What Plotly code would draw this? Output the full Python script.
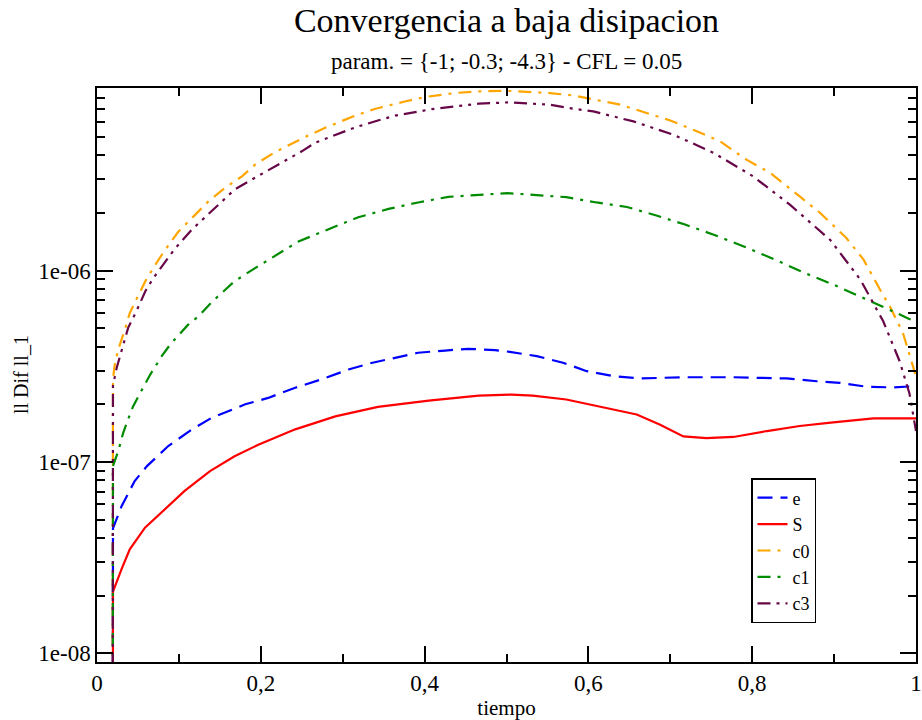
import math
import plotly.graph_objects as go

# ---------------- data ----------------
t_e = [0.019, 0.0195, 0.030, 0.046, 0.061, 0.087, 0.116, 0.140, 0.181, 0.209, 0.242, 0.274,
       0.307, 0.335, 0.364, 0.392, 0.425, 0.453, 0.486, 0.504, 0.537, 0.569, 0.598, 0.630,
       0.663, 0.716, 0.777, 0.842, 0.879, 0.907, 0.940, 0.972, 1.0]
v_e = [1e-10, 4.5e-8, 5.87e-8, 7.94e-8, 9.51e-8, 1.21e-7, 1.48e-7, 1.70e-7, 2.0e-7, 2.16e-7,
       2.44e-7, 2.70e-7, 3.04e-7, 3.29e-7, 3.50e-7, 3.72e-7, 3.82e-7, 3.90e-7, 3.84e-7, 3.76e-7,
       3.57e-7, 3.30e-7, 2.98e-7, 2.81e-7, 2.73e-7, 2.77e-7, 2.77e-7, 2.73e-7, 2.64e-7, 2.59e-7,
       2.47e-7, 2.45e-7, 2.49e-7]

t_S = [0.019, 0.0195, 0.030, 0.040, 0.0586, 0.083, 0.107, 0.138, 0.168, 0.197, 0.242, 0.291,
       0.343, 0.405, 0.466, 0.506, 0.532, 0.573, 0.614, 0.659, 0.687, 0.716, 0.744, 0.777,
       0.818, 0.858, 0.899, 0.948, 1.0]
v_S = [1e-10, 2.1e-8, 2.75e-8, 3.49e-8, 4.53e-8, 5.65e-8, 7.05e-8, 8.96e-8, 1.07e-7, 1.23e-7,
       1.48e-7, 1.73e-7, 1.94e-7, 2.09e-7, 2.22e-7, 2.25e-7, 2.22e-7, 2.12e-7, 1.95e-7, 1.77e-7,
       1.57e-7, 1.36e-7, 1.33e-7, 1.35e-7, 1.45e-7, 1.54e-7, 1.61e-7, 1.69e-7, 1.69e-7]

t_c0 = [0.019, 0.0195, 0.022, 0.026, 0.034, 0.040, 0.048, 0.059, 0.071, 0.083, 0.099, 0.120,
        0.136, 0.156, 0.177, 0.193, 0.217, 0.254, 0.278, 0.315, 0.339, 0.376, 0.400, 0.437,
        0.462, 0.500, 0.553, 0.582, 0.614, 0.639, 0.675, 0.700, 0.736, 0.761, 0.793, 0.822,
        0.858, 0.883, 0.915, 0.936, 0.956, 0.968, 0.984, 0.997, 1.0]
v_c0 = [1e-10, 2.7e-7, 3.3e-7, 3.87e-7, 4.92e-7, 6.0e-7, 7.06e-7, 8.8e-7, 1.07e-6, 1.28e-6,
        1.59e-6, 1.96e-6, 2.30e-6, 2.70e-6, 3.11e-6, 3.58e-6, 4.15e-6, 4.99e-6, 5.56e-6, 6.45e-6,
        6.99e-6, 7.65e-6, 8.07e-6, 8.47e-6, 8.63e-6, 8.71e-6, 8.47e-6, 8.22e-6, 7.72e-6, 7.36e-6,
        6.58e-6, 6.09e-6, 5.27e-6, 4.73e-6, 3.80e-6, 3.24e-6, 2.44e-6, 2.00e-6, 1.48e-6, 1.14e-6,
        7.96e-7, 6.51e-7, 4.73e-7, 3.16e-7, 2.8e-7]

t_c1 = [0.019, 0.0195, 0.026, 0.032, 0.038, 0.044, 0.055, 0.065, 0.079, 0.090, 0.111, 0.124,
        0.141, 0.168, 0.193, 0.213, 0.246, 0.282, 0.319, 0.356, 0.392, 0.429, 0.466, 0.501,
        0.537, 0.573, 0.610, 0.647, 0.683, 0.718, 0.753, 0.789, 0.826, 0.862, 0.899, 0.936,
        0.972, 0.991, 1.0]
v_c1 = [1e-10, 9.5e-8, 1.14e-7, 1.42e-7, 1.67e-7, 1.95e-7, 2.39e-7, 2.86e-7, 3.57e-7, 4.14e-7,
        5.2e-7, 5.77e-7, 6.9e-7, 8.8e-7, 1.03e-6, 1.16e-6, 1.42e-6, 1.64e-6, 1.90e-6, 2.10e-6,
        2.27e-6, 2.43e-6, 2.49e-6, 2.54e-6, 2.48e-6, 2.42e-6, 2.27e-6, 2.15e-6, 1.94e-6, 1.74e-6,
        1.54e-6, 1.34e-6, 1.15e-6, 9.8e-7, 8.45e-7, 7.2e-7, 6.12e-7, 5.6e-7, 5.4e-7]

t_c3 = [0.019, 0.0195, 0.024, 0.028, 0.038, 0.048, 0.059, 0.069, 0.079, 0.095, 0.116, 0.140,
        0.168, 0.189, 0.221, 0.250, 0.266, 0.299, 0.315, 0.343, 0.364, 0.409, 0.441, 0.466,
        0.502, 0.553, 0.582, 0.606, 0.655, 0.704, 0.753, 0.801, 0.846, 0.895, 0.932, 0.960,
        0.980, 0.992, 1.0]
v_c3 = [1e-10, 2.5e-7, 3.1e-7, 3.57e-7, 5.02e-7, 6.12e-7, 7.80e-7, 9.16e-7, 1.05e-6, 1.30e-6,
        1.64e-6, 2.04e-6, 2.65e-6, 2.99e-6, 3.58e-6, 4.20e-6, 4.65e-6, 5.24e-6, 5.60e-6, 6.09e-6,
        6.45e-6, 6.98e-6, 7.27e-6, 7.45e-6, 7.57e-6, 7.36e-6, 7.01e-6, 6.79e-6, 6.02e-6, 5.13e-6,
        4.12e-6, 3.11e-6, 2.21e-6, 1.45e-6, 8.98e-7, 5.43e-7, 3.36e-7, 2.28e-7, 1.45e-7]

x_tick_vals = [0, 0.2, 0.4, 0.6, 0.8, 1.0]
x_tick_text = ["0", "0,2", "0,4", "0,6", "0,8", "1"]
x_minor_vals = [0.1, 0.3, 0.5, 0.7, 0.9]
y_tick_vals = [1e-8, 1e-7, 1e-6]
y_tick_text = ["1e-08", "1e-07", "1e-06"]
y_minor_vals = [m * 10.0 ** d for d in (-9, -8, -7, -6) for m in range(2, 10)]

FONT = "Liberation Serif"

series = [
    ("e", t_e, v_e, "#0000FF", "15px,8px"),
    ("S", t_S, v_S, "#FF0000", "solid"),
    ("c0", t_c0, v_c0, "#FFA500", "13px,7px,3px,7px"),
    ("c1", t_c1, v_c1, "#008B00", "13px,7px,3px,7px"),
    ("c3", t_c3, v_c3, "#670748", "13px,6px,3px,6px,3px,6px"),
]

fig = go.Figure()
for name, t, v, col, dash in series:
    fig.add_trace(go.Scatter(x=t, y=v, mode="lines", name=name,
                             line=dict(color=col, width=2.2, dash=dash)))

axis_common = dict(showline=True, linecolor="black", linewidth=1.5, mirror="ticks",
                   ticks="inside", tickcolor="black", tickwidth=1.5, ticklen=16,
                   showgrid=False, zeroline=False, automargin=False,
                   tickfont=dict(family=FONT, size=23, color="black"))

fig.update_layout(
    width=922, height=720,
    margin=dict(l=97, r=6, t=88, b=58),
    paper_bgcolor="white", plot_bgcolor="white",
    font=dict(family=FONT, color="black"),
    title=dict(text="Convergencia a baja disipacion", x=0.5, xref="paper",
               y=1 - 20 / 720, yref="container", yanchor="middle",
               font=dict(family=FONT, size=34, color="black")),
    xaxis=dict(range=[0, 1], tickvals=x_tick_vals, ticktext=x_tick_text,
               minor=dict(tickvals=x_minor_vals, ticks="inside", ticklen=8,
                          tickcolor="black", tickwidth=1.5),
               title=dict(text="tiempo", font=dict(family=FONT, size=21)),
               **axis_common),
    yaxis=dict(type="log", range=[math.log10(9e-9), math.log10(9e-6)],
               tickvals=y_tick_vals, ticktext=y_tick_text,
               minor=dict(tickvals=y_minor_vals, ticks="inside", ticklen=8,
                          tickcolor="black", tickwidth=1.5),
               **axis_common),
    legend=dict(x=(751 - 97) / 819, y=(662 - 623) / 574, xanchor="left", yanchor="bottom",
                bgcolor="white", bordercolor="black", borderwidth=1.5,
                font=dict(family=FONT, size=18, color="black"),
                tracegroupgap=0, itemwidth=30),
    showlegend=True,
)

fig.add_annotation(text="param. = {-1; -0.3; -4.3} - CFL = 0.05", xref="paper", yref="paper",
                   x=0.5, y=1 + (88 - 61) / 574, yanchor="middle", showarrow=False,
                   font=dict(family=FONT, size=23, color="black"))
fig.add_annotation(text="ll Dif ll_1", xref="paper", yref="paper",
                   x=(21 - 97) / 819, y=0.5, xanchor="center", yanchor="middle",
                   textangle=-90, showarrow=False,
                   font=dict(family=FONT, size=20, color="black"))

fig.write_html("out.html", config={"displayModeBar": False},
               post_script="document.body.style.margin='0';document.body.style.padding='0';")
